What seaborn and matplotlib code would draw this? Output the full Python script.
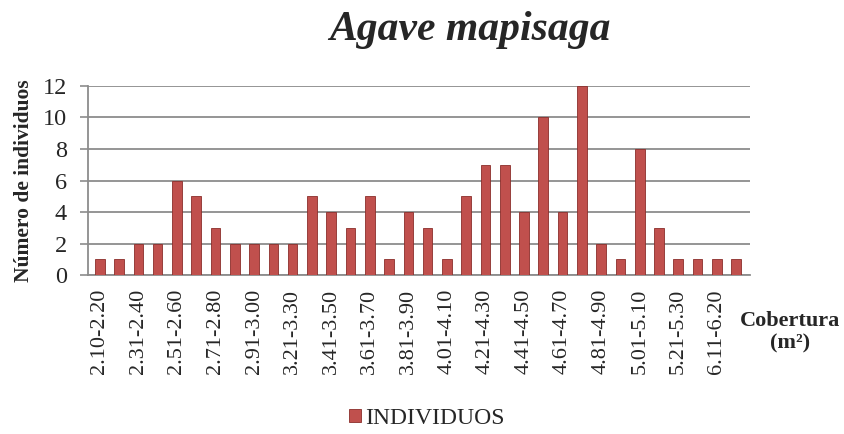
import matplotlib
matplotlib.use("Agg")
import matplotlib.pyplot as plt
import seaborn as sns
import pandas as pd

categories = ["2.10-2.20", "2.21-2.30", "2.31-2.40", "2.41-2.50", "2.51-2.60", "2.61-2.70",
              "2.71-2.80", "2.81-2.90", "2.91-3.00", "3.11-3.20", "3.21-3.30", "3.31-3.40",
              "3.41-3.50", "3.51-3.60", "3.61-3.70", "3.71-3.80", "3.81-3.90", "3.91-4.00",
              "4.01-4.10", "4.11-4.20", "4.21-4.30", "4.31-4.40", "4.41-4.50", "4.51-4.60",
              "4.61-4.70", "4.71-4.80", "4.81-4.90", "4.91-5.00", "5.01-5.10", "5.11-5.20",
              "5.21-5.30", "5.41-5.50", "6.11-6.20", "6.21-6.30"]
individuos = [1, 1, 2, 2, 6, 5, 3, 2, 2, 2, 2, 5, 4, 3, 5, 1, 4, 3,
              1, 5, 7, 7, 4, 10, 4, 12, 2, 1, 8, 3, 1, 1, 1, 1]
yticks = [0, 2, 4, 6, 8, 10, 12]

df = pd.DataFrame({"cat": categories, "val": individuos})

sns.set_theme(style="white")
plt.rcParams["font.family"] = ["Liberation Serif", "DejaVu Serif"]

fig = plt.figure(figsize=(8.45, 4.34), dpi=100)
ax = fig.add_axes([0.104, 0.366, 0.784, 0.436])

sns.barplot(data=df, x="cat", y="val", color="#C0504D", width=0.5, saturation=1,
            edgecolor="#8B2E2B", linewidth=0.6, label="INDIVIDUOS", ax=ax, zorder=3)

ax.set_ylim(0, 12)
ax.set_yticks(yticks)
ax.set_yticklabels([str(v) for v in yticks], fontsize=17.5)
ax.set_xlim(-0.62, 33.74)
ax.set_xticks(range(0, len(categories), 2))
ax.set_xticklabels(categories[::2], rotation=90, fontsize=16)
ax.tick_params(axis="x", length=0, pad=10)
ax.tick_params(axis="y", length=6, width=1.2, color="#8c8c8c", left=True, pad=9)

ax.grid(axis="y", color="#8c8c8c", linewidth=1.3, zorder=0)
for s in ["top", "right"]:
    ax.spines[s].set_visible(False)
ax.spines["left"].set_color("#8c8c8c")
ax.spines["left"].set_linewidth(1.3)
ax.spines["bottom"].set_color("#8c8c8c")
ax.spines["bottom"].set_linewidth(1.3)

ax.set_xlabel("")
ax.set_ylabel("Número de individuos", fontsize=15.5, fontweight="bold", labelpad=6)

fig.text(0.556, 0.93, "Agave mapisaga", fontsize=30, fontweight="bold", style="italic",
         ha="center", va="center")
fig.text(0.935, 0.235, "Cobertura\n(m²)", fontsize=16, fontweight="bold",
         ha="center", va="center", linespacing=1.15)

ax.legend(loc="center", bbox_to_anchor=(0.512, -0.757), frameon=False, fontsize=17,
          handlelength=0.5, handleheight=0.5, handletextpad=0.2)

fig.savefig("out.png", dpi=100)
